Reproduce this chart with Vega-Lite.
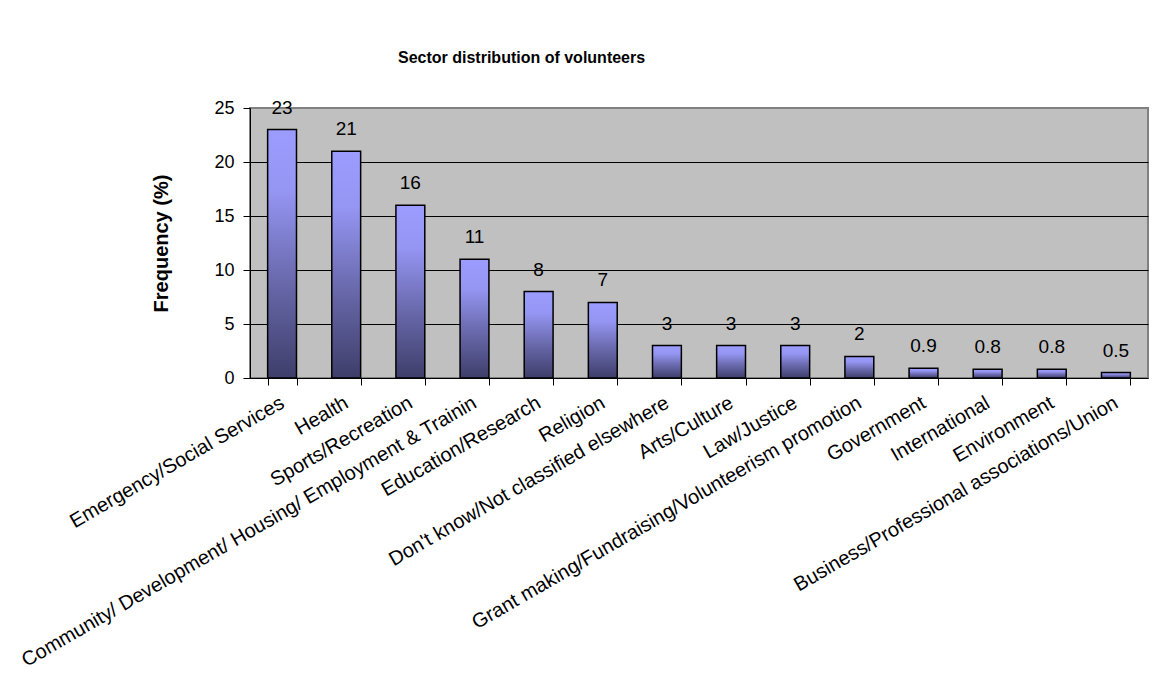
{
  "$schema": "https://vega.github.io/schema/vega-lite/v6.json",
  "autosize": "none",
  "width": 898,
  "height": 270,
  "padding": {"left": 250, "top": 108, "right": 11, "bottom": 315},
  "background": "white",
  "title": {
    "text": "Sector distribution of volunteers",
    "font": "Liberation Sans",
    "fontSize": 16,
    "fontWeight": "bold",
    "color": "black",
    "anchor": "start",
    "frame": "group",
    "dx": 148,
    "offset": 33
  },
  "data": {
    "values": [
      {"sector": "Emergency/Social Services", "freq": 23},
      {"sector": "Health", "freq": 21},
      {"sector": "Sports/Recreation", "freq": 16},
      {"sector": "Community/ Development/ Housing/ Employment & Trainin", "freq": 11},
      {"sector": "Education/Research", "freq": 8},
      {"sector": "Religion", "freq": 7},
      {"sector": "Don't know/Not classified elsewhere", "freq": 3},
      {"sector": "Arts/Culture", "freq": 3},
      {"sector": "Law/Justice", "freq": 3},
      {"sector": "Grant making/Fundraising/Volunteerism promotion", "freq": 2},
      {"sector": "Government", "freq": 0.9},
      {"sector": "International", "freq": 0.8},
      {"sector": "Environment", "freq": 0.8},
      {"sector": "Business/Professional associations/Union", "freq": 0.5}
    ]
  },
  "encoding": {
    "x": {
      "field": "sector",
      "type": "nominal",
      "sort": null,
      "scale": {"paddingInner": 0.55, "paddingOuter": 0.275},
      "axis": {
        "title": null,
        "tickBand": "extent",
        "labelOffset": 0,
        "labelAngle": -30,
        "labelAlign": "right",
        "labelBaseline": "middle",
        "labelPadding": 16,
        "labelFont": "Liberation Sans",
        "labelFontSize": 20,
        "labelColor": "black",
        "labelLimit": 0,
        "labelOverlap": false,
        "labelBound": false,
        "labelFlush": false,
        "tickSize": 7,
        "tickColor": "black",
        "domainColor": "black",
        "domainWidth": 1,
        "grid": false
      }
    },
    "y": {
      "field": "freq",
      "type": "quantitative",
      "scale": {"domain": [0, 25], "nice": false},
      "axis": {
        "title": "Frequency (%)",
        "titleFont": "Liberation Sans",
        "titleFontSize": 20,
        "titleFontWeight": "bold",
        "titleColor": "black",
        "titlePadding": 42,
        "values": [0, 5, 10, 15, 20, 25],
        "labelFont": "Liberation Sans",
        "labelFontSize": 18,
        "labelColor": "black",
        "labelPadding": 9,
        "tickSize": 7,
        "tickColor": "black",
        "domainColor": "black",
        "grid": true,
        "gridColor": {"condition": {"test": "datum.value === 25 || datum.value === 0", "value": "#808080"}, "value": "black"},
        "gridWidth": 1
      }
    }
  },
  "layer": [
    {
      "mark": {
        "type": "bar",
        "stroke": "black",
        "strokeWidth": 1.5,
        "color": {
          "gradient": "linear",
          "x1": 0, "y1": 0, "x2": 0, "y2": 1,
          "stops": [
            {"offset": 0, "color": "#9c9cff"},
            {"offset": 0.25, "color": "#9595f3"},
            {"offset": 0.6, "color": "#6a6aae"},
            {"offset": 1, "color": "#3e3e6a"}
          ]
        }
      }
    },
    {
      "mark": {
        "type": "text",
        "font": "Liberation Sans",
        "fontSize": 19,
        "color": "black",
        "baseline": "alphabetic",
        "dy": -16
      },
      "encoding": {
        "text": {"field": "freq", "type": "quantitative", "format": "~g"}
      }
    }
  ],
  "config": {
    "view": {"fill": "#c0c0c0", "stroke": "#808080", "strokeWidth": 2}
  }
}
